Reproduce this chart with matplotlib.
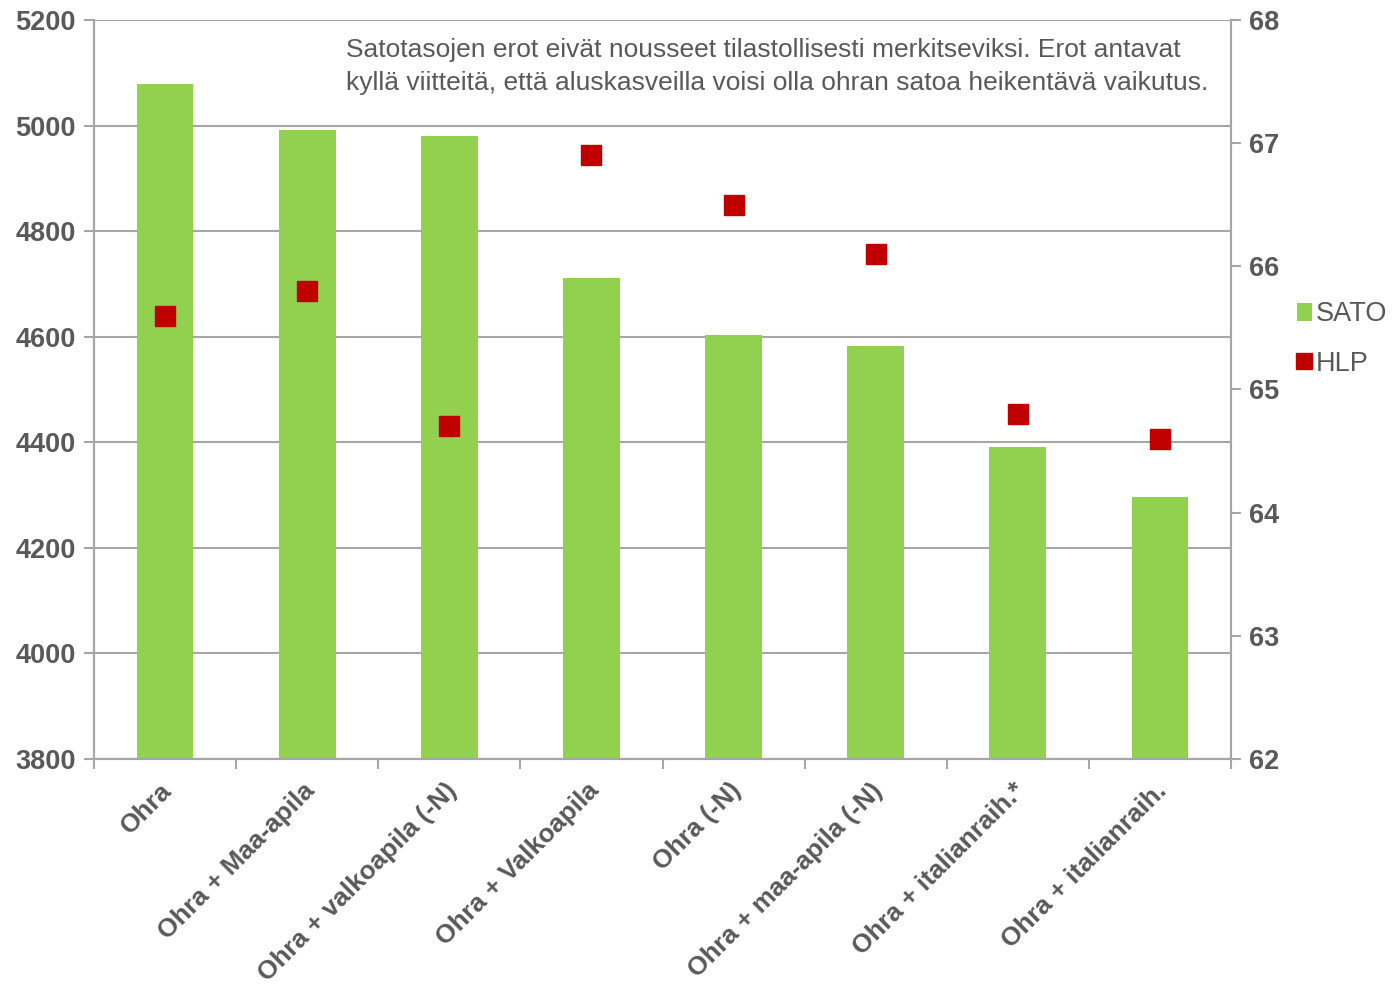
import matplotlib
matplotlib.use("Agg")
import matplotlib.pyplot as plt
import numpy as np

categories = [
    "Ohra",
    "Ohra + Maa-apila",
    "Ohra + valkoapila (-N)",
    "Ohra + Valkoapila",
    "Ohra (-N)",
    "Ohra + maa-apila (-N)",
    "Ohra + italianraih.*",
    "Ohra + italianraih.",
]
sato = [5079, 4992, 4981, 4711, 4603, 4583, 4391, 4296]
hlp = [65.6, 65.8, 64.7, 66.9, 66.5, 66.1, 64.8, 64.6]
left_ticks = [3800, 4000, 4200, 4400, 4600, 4800, 5000, 5200]
right_ticks = [62, 63, 64, 65, 66, 67, 68]
note = ("Satotasojen erot eivät nousseet tilastollisesti merkitseviksi. Erot antavat\n"
        "kyllä viitteitä, että aluskasveilla voisi olla ohran satoa heikentävä vaikutus.")

GREEN = "#92D050"
RED = "#C00000"
GRID = "#A6A6A6"
TXT = "#595959"

plt.rcParams["font.family"] = ["Liberation Sans", "DejaVu Sans"]

fig = plt.figure(figsize=(13.95, 9.84), dpi=100)
ax = fig.add_axes([94 / 1395, 1 - 759 / 984, (1231 - 94) / 1395, (759 - 20) / 984])
ax2 = ax.twinx()

x = np.arange(len(categories))
ax.bar(x, sato, width=0.4, color=GREEN, zorder=2, label="SATO")
ax.set_ylim(3800, 5200)
ax.set_yticks(left_ticks)
ax.set_xlim(-0.5, len(categories) - 0.5)
ax.yaxis.grid(True, color=GRID, linewidth=1.5, zorder=0)
ax.set_axisbelow(True)

ax2.plot(x, hlp, linestyle="none", marker="s", markersize=15, color=RED, label="HLP", zorder=3)
ax2.set_ylim(62, 68)
ax2.set_yticks(right_ticks)

for a in (ax, ax2):
    a.spines["top"].set_visible(False)
    for s in ("left", "right", "bottom"):
        a.spines[s].set_color(GRID)
        a.spines[s].set_linewidth(1.5)
    a.tick_params(axis="y", colors=GRID, length=7, width=1.5, labelcolor=TXT, labelsize=19.5, pad=6)
for lab in ax.get_yticklabels() + ax2.get_yticklabels():
    lab.set_fontweight("bold")

# category ticks sit between the bars
ax.set_xticks(np.arange(-0.5, len(categories), 1.0))
ax.set_xticklabels([])
ax.tick_params(axis="x", colors=GRID, length=7, width=1.5)
ax.set_xticks(x, minor=True)
ax.set_xticklabels(categories, minor=True, rotation=45, ha="right", rotation_mode="anchor",
                   fontsize=18.8, fontweight="bold", color=TXT)
ax.tick_params(axis="x", which="minor", length=0, pad=14)
for lab in ax.get_xticklabels(minor=True):
    lab.set_transform(lab.get_transform() + matplotlib.transforms.ScaledTranslation(-0.05, 0, fig.dpi_scale_trans))

ax.text(0.222, 0.975, note, transform=ax.transAxes, fontsize=19, color=TXT,
        va="top", ha="left", linespacing=1.45)

h1, l1 = ax.get_legend_handles_labels()
h2, l2 = ax2.get_legend_handles_labels()
fig.legend(h1 + h2, l1 + l2, loc="center left", bbox_to_anchor=(1297 / 1395, 1 - 339 / 984),
           frameon=False, fontsize=19.5, labelcolor=TXT, handlelength=0.55, handletextpad=0.15,
           labelspacing=0.85, borderpad=0, borderaxespad=0, markerscale=0.8)

fig.savefig("out.png", dpi=100)
